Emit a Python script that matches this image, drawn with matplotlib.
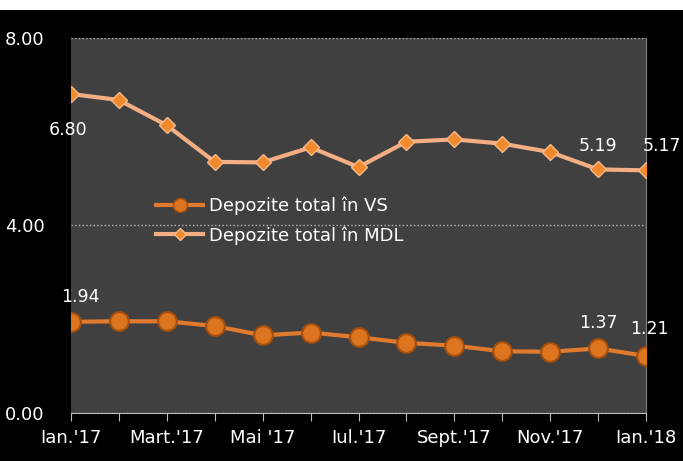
import matplotlib.pyplot as plt
from matplotlib.patches import Rectangle
from matplotlib.lines import Line2D

# monthly data, Ian.'17 .. Ian.'18
months = ["Ian.'17", "Feb.'17", "Mart.'17", "Apr.'17", "Mai '17", "Iun.'17", "Iul.'17",
          "Aug.'17", "Sept.'17", "Oct.'17", "Nov.'17", "Dec.'17", "Ian.'18"]
vs = [1.94, 1.95, 1.95, 1.85, 1.65, 1.71, 1.61, 1.49, 1.43, 1.31, 1.30, 1.37, 1.21]
mdl = [6.80, 6.67, 6.13, 5.35, 5.34, 5.66, 5.24, 5.78, 5.83, 5.74, 5.56, 5.19, 5.17]
yticks = [0, 4, 8]

fig = plt.figure(figsize=(6.83, 4.61), dpi=100, facecolor='black')
# white strip at the top
fig.patches.append(Rectangle((0, 1 - 10 / 461), 1, 10 / 461, transform=fig.transFigure,
                             facecolor='white', edgecolor='none'))
ax = fig.add_axes([71 / 683, 1 - 412.7 / 461, 575 / 683, 375 / 461])
ax.set_facecolor('#404040')

x = list(range(len(months)))
ax.plot(x, vs, color='#E07A2E', lw=3, marker='o', ms=13.5,
        markerfacecolor='#DC7420', markeredgecolor='#A34F0E', markeredgewidth=1.5, zorder=3)
ax.plot(x, mdl, color='#F4AE84', lw=3, marker='D', ms=8.5,
        markerfacecolor='#F08A2C', markeredgecolor='#F7B98E', zorder=3)

ax.set_xlim(0, 12)
ax.set_ylim(0, 8)
ax.set_yticks(yticks)
ax.set_yticklabels(['%.2f' % v for v in yticks], color='white', fontsize=13)
ax.yaxis.grid(True, color='#BBBBBB', linestyle=':', lw=1)
ax.tick_params(axis='y', length=0, pad=19)
ax.set_xticks(x)
ax.set_xticklabels([m if i % 2 == 0 else '' for i, m in enumerate(months)],
                   color='white', fontsize=13)
ax.tick_params(axis='x', colors='#BBBBBB', labelcolor='white', length=6, direction='out', pad=6)
for s in ['top', 'left']:
    ax.spines[s].set_visible(False)
ax.spines['bottom'].set_color('#BBBBBB')
ax.spines['right'].set_color('#808080')

# data labels
lbl = dict(color='white', fontsize=12.5, clip_on=False, ha='center', va='center')
ax.text(-0.07, mdl[0] - 0.76, '%.2f' % mdl[0], **lbl)
ax.text(11, mdl[11] + 0.51, '%.2f' % mdl[11], **lbl)
ax.text(12.33, mdl[12] + 0.53, '%.2f' % mdl[12], **lbl)
ax.text(0.19, vs[0] + 0.52, '%.2f' % vs[0], **lbl)
ax.text(11, vs[11] + 0.55, '%.2f' % vs[11], **lbl)
ax.text(12.08, vs[12] + 0.58, '%.2f' % vs[12], **lbl)

handles = [Line2D([], [], color='#E07A2E', lw=3, marker='o', ms=10,
                  markerfacecolor='#DC7420', markeredgecolor='#A34F0E'),
           Line2D([], [], color='#F4AE84', lw=3, marker='D', ms=6,
                  markerfacecolor='#F08A2C', markeredgecolor='#F7B98E')]
ax.legend(handles, ['Depozite total în VS', 'Depozite total în MDL'],
          loc='upper left', bbox_to_anchor=(0.12, 0.62), frameon=False,
          labelcolor='white', fontsize=13, handlelength=2.6, handletextpad=0.3,
          labelspacing=0.62)

fig.savefig('out.png', dpi=100, facecolor=fig.get_facecolor())
